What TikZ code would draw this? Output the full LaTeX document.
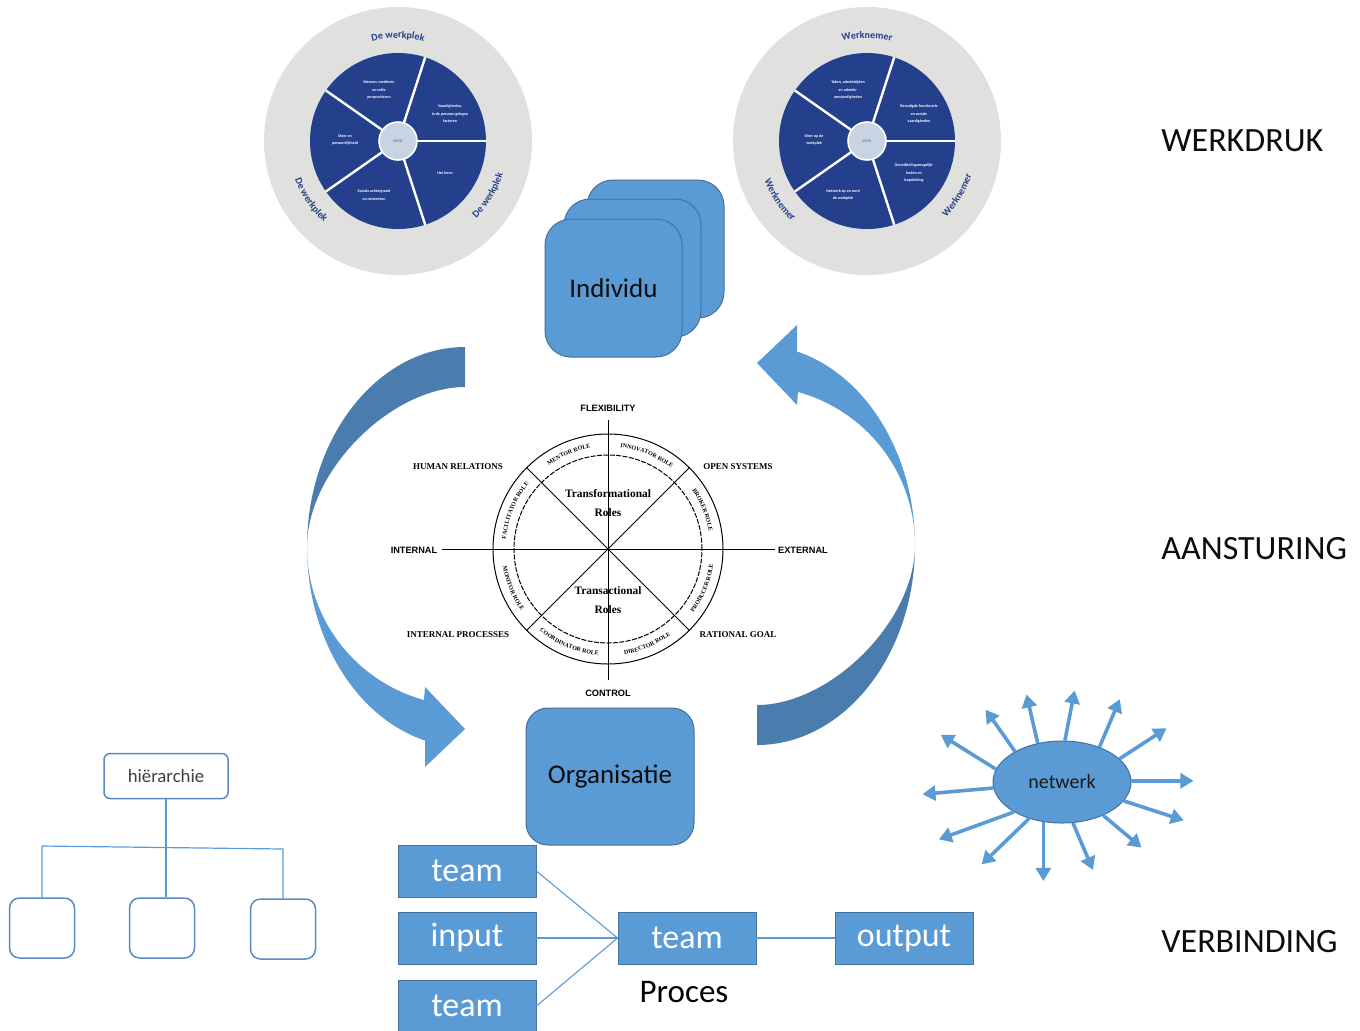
\documentclass[tikz,border=0pt]{standalone}
\usepackage{fontspec}
\setmainfont{Carlito}
\newfontfamily\quinnserif{Liberation Serif}
\newfontfamily\quinnsans{Liberation Sans}
\usetikzlibrary{shapes.geometric,arrows.meta,decorations.text}

\definecolor{officeblue}{HTML}{5B9BD5}
\definecolor{officeedge}{HTML}{41719C}
\definecolor{arrowdark}{HTML}{4A7CAD}
\definecolor{wheelnavy}{HTML}{243F8B}
\definecolor{wheelgray}{HTML}{E0E0DF}
\definecolor{kernfill}{HTML}{C9D4E2}
\definecolor{hierblue}{HTML}{5A8AC6}

\newcommand\fs[2]{\fontsize{#1}{#2}\selectfont}
\newcommand\ringfont{\color{wheelnavy}\bfseries\fs{5}{6}}
\newcommand\rolefont{\quinnserif\bfseries\fs{3}{3.6}}

\tikzset{
  ringtext/.style={decorate, decoration={text along path, text align=center, text={|\ringfont|#1}}},
  roletext/.style={decorate, decoration={text along path, text align=center, text={|\rolefont|#1}}},
  segtext/.style={align=center, text=white, inner sep=0pt, font=\bfseries\fs{2}{3.8}},
  bluetile/.style={draw=officeedge, line width=0.5pt, fill=officeblue, inner sep=0pt,
    text=black!95, font=\fs{13.5}{16}},
  procbox/.style={draw=officeedge, line width=0.4pt, fill=officeblue, minimum width=69pt,
    minimum height=26pt, inner sep=0pt, text=white, font=\fs{17}{20}},
  procline/.style={draw=officeblue, line width=0.55pt},
  sidelabel/.style={anchor=west, inner sep=0pt, font=\fs{17}{20}, text=black!95},
  qline/.style={draw=black, line width=0.5pt},
  qcap/.style={inner sep=0pt, font=\quinnsans\bfseries\fs{4.6}{5}},
  qhead/.style={inner sep=0pt, font=\quinnserif\bfseries\fs{4.5}{5}},
  qroles/.style={inner sep=0pt, align=center, font=\quinnserif\bfseries\fs{5.7}{9.5}},
  netray/.style={draw=officeblue, line width=1.8pt, -{Triangle[length=6.5pt,width=7.5pt]}},
  hierbox/.style={draw=hierblue, line width=0.75pt, fill=white, rounded corners=3pt,
    minimum width=62pt, minimum height=22.5pt, inner sep=0pt, text=black!75, font=\fs{9.4}{11}},
  hierchild/.style={draw=hierblue, line width=0.75pt, fill=white, rounded corners=5pt,
    minimum width=32.5pt, minimum height=30pt, inner sep=0pt},
  hierline/.style={draw=officeblue, line width=0.6pt},
}

% Ring-shaped overview: #1 name prefix, #2 centre, #3 ring label,
% #4..#8 segment texts (top, upper right, lower right, bottom, left)
\newcommand\workwheel[8]{%
\begin{scope}[shift={#2}, x=0.5pt, y=0.5pt]
  \fill[wheelgray] (0,0) circle[radius=134];
  \fill[wheelnavy] (0,0) circle[radius=88];
  \foreach \a in {72,0,-72,-145,145}
    \draw[white, line width=1.2pt] (0,0) -- (\a:88);
  \node[circle, fill=kernfill, draw=white, line width=0.8pt, minimum size=19pt,
    inner sep=0pt, text=wheelnavy!80, font=\fs{2}{2.4}] (#1kern) at (0,0) {KERN};
  \node[segtext] (#1top) at (-19,51) {#4};
  \node[segtext] (#1ur) at (52,27) {#5};
  \node[segtext] (#1lr) at (47,-32) {#6};
  \node[segtext] (#1bot) at (-24,-54) {#7};
  \node[segtext] (#1left) at (-53,1) {#8};
  \path[ringtext={#3}] (118:103) arc[start angle=118, end angle=62, radius=103];
  \path[ringtext={#3}] (186:110) arc[start angle=186, end angle=242, radius=110];
  \path[ringtext={#3}] (-59:110) arc[start angle=-59, end angle=-3, radius=110];
\end{scope}}

\begin{document}
\begin{tikzpicture}[x=0.5pt, y=-0.5pt]
\useasboundingbox (0,0) rectangle (1360,1030);

% ---- the two ring overviews ----
\workwheel{lw}{(398,141)}{De werkplek}{Wensen, medieren\\en reële\\perspectieven}%
  {Vaardigheden,\\in de persoon gelegen\\factoren}{Het leren}%
  {Sociale achtergrond\\en netwerken}{Sfeer en\\persoonlijkheid}
\workwheel{rw}{(867,141)}{Werknemer}{Taken, arbeidstijden\\en arbeids-\\omstandigheden}%
  {Benodigde functionele\\en sociale\\vaardigheden}{Ontwikkelingsmogelijk-\\heden en\\begeleiding}%
  {Netwerk op en rond\\de werkplek}{Sfeer op de\\werkplek}

% ---- side headings ----
\node[sidelabel] (werkdruk) at (1161,141) {WERKDRUK};
\node[sidelabel] (aansturing) at (1161,549) {AANSTURING};
\node[sidelabel] (verbinding) at (1161,942) {VERBINDING};

% ---- stacked individual tiles ----
\node[bluetile, rounded corners=13pt, minimum width=68.5pt, minimum height=69pt] (ind3) at (655.5,249) {};
\node[bluetile, rounded corners=13pt, minimum width=68.5pt, minimum height=69pt] (ind2) at (632.5,268) {};
\node[bluetile, rounded corners=13pt, minimum width=68.5pt, minimum height=69pt] (ind1) at (613.5,288) {Individu};

% ---- organisation tile ----
\node[bluetile, rounded corners=11pt, minimum width=84pt, minimum height=68.5pt] (org) at (610,776.5) {Organisatie};

% ---- curved arrows round the role wheel ----
\newcommand\cyclearrow{%
  \fill[arrowdark] (465,347) .. controls (378,347) and (307,437) .. (307,547)
    .. controls (307,470) and (392,387) .. (465,387) -- cycle;
  \fill[officeblue] (307,547) .. controls (307,637.5) and (356,717.5) .. (425,740.5)
    -- (425,767) -- (465,729) -- (425,687) -- (424,700)
    .. controls (355,681) and (307,618.5) .. (307,547) -- cycle;}
\cyclearrow
\begin{scope}[rotate around={180:(611,546)}]
  \cyclearrow
\end{scope}

% ---- competing values wheel ----
\begin{scope}[shift={(608,549)}, x=0.5pt, y=0.5pt]
  \draw[qline] (0,0) circle[radius=115];
  \draw[qline, dash pattern=on 2.5pt off 0.7pt] (0,0) circle[radius=94];
  \draw[qline] (0,129) -- (0,-131);
  \draw[qline] (-166,0) -- (167,0);
  \draw[qline] (135:115) -- (-45:115);
  \draw[qline] (45:115) -- (225:115);
  \path[roletext={MENTOR ROLE}] (133.5:102.5) arc[start angle=133.5, end angle=91.5, radius=102.5];
  \path[roletext={INNOVATOR ROLE}] (88.5:102.5) arc[start angle=88.5, end angle=46.5, radius=102.5];
  \path[roletext={BROKER ROLE}] (43.5:102.5) arc[start angle=43.5, end angle=1.5, radius=102.5];
  \path[roletext={FACILITATOR ROLE}] (178.5:102.5) arc[start angle=178.5, end angle=136.5, radius=102.5];
  \path[roletext={PRODUCER ROLE}] (-43.5:106.5) arc[start angle=-43.5, end angle=-1.5, radius=106.5];
  \path[roletext={DIRECTOR ROLE}] (-88.5:106.5) arc[start angle=-88.5, end angle=-46.5, radius=106.5];
  \path[roletext={COORDINATOR ROLE}] (-133.5:106.5) arc[start angle=-133.5, end angle=-91.5, radius=106.5];
  \path[roletext={MONITOR ROLE}] (-178.5:106.5) arc[start angle=-178.5, end angle=-136.5, radius=106.5];
\end{scope}
\node[qcap] (flex) at (608,408) {FLEXIBILITY};
\node[qcap] (control) at (608,693) {CONTROL};
\node[qcap] (internal) at (414,550) {INTERNAL};
\node[qcap] (external) at (803,550) {EXTERNAL};
\node[qhead] (humrel) at (458,467) {HUMAN RELATIONS};
\node[qhead] (opensys) at (738,467) {OPEN SYSTEMS};
\node[qhead] (intproc) at (458,635) {INTERNAL PROCESSES};
\node[qhead] (ratgoal) at (738,635) {RATIONAL GOAL};
\node[qroles] (transf) at (608,503.5) {Transformational\\Roles};
\node[qroles] (transa) at (608,600.5) {Transactional\\Roles};

% ---- network ----
\node[ellipse, draw=officeedge, line width=0.5pt, fill=officeblue, minimum width=69pt,
  minimum height=41pt, inner sep=0pt, text=black!90, font=\fs{10}{12}] (net) at (1062,782) {netwerk};
\foreach \s/\d/\l [count=\i] in {147/125/51, 122/103/50, 86/79/51, 43/67/52, 22/33/56,
    1/0/62, -17/-18/63, -39/-40/50, -75/-67/51, -115/-90/59, -132/-136/66,
    -148/-160/80, -175/-175/71, 169/148/65}
  \draw[netray] (net.\s) -- ++(-\d:\l) coordinate (ray\i);

% ---- hierarchy ----
\node[hierbox] (hier) at (166,776) {hiërarchie};
\node[hierchild] (c1) at (42,928) {};
\node[hierchild] (c2) at (162,928) {};
\node[hierchild] (c3) at (283,929) {};
\coordinate (barl) at (0,846);
\coordinate (barr) at (0,849);
\draw[hierline] (hier.south) -- (hier.south |- c2.north);
\draw[hierline] (c1.north) -- (c1.north |- barl) -- (c3.north |- barr) -- (c3.north);

% ---- process chain ----
\node[procbox] (teamA) at (467,871) {team};
\node[procbox] (input) at (467,938) {input};
\node[procbox] (teamB) at (467,1006) {team};
\node[procbox] (proc) at (687,938) {team};
\node[procbox] (output) at (904,938) {output};
\node[inner sep=0pt, font=\fs{16.5}{19}, text=black] (proces) at (684,992) {Proces};
\draw[procline] (teamA.east) -- (proc.west);
\draw[procline] (input.east) -- (proc.west);
\draw[procline] (teamB.east) -- (proc.west);
\draw[procline] (proc.east) -- (output.west);
\end{tikzpicture}
\end{document}
